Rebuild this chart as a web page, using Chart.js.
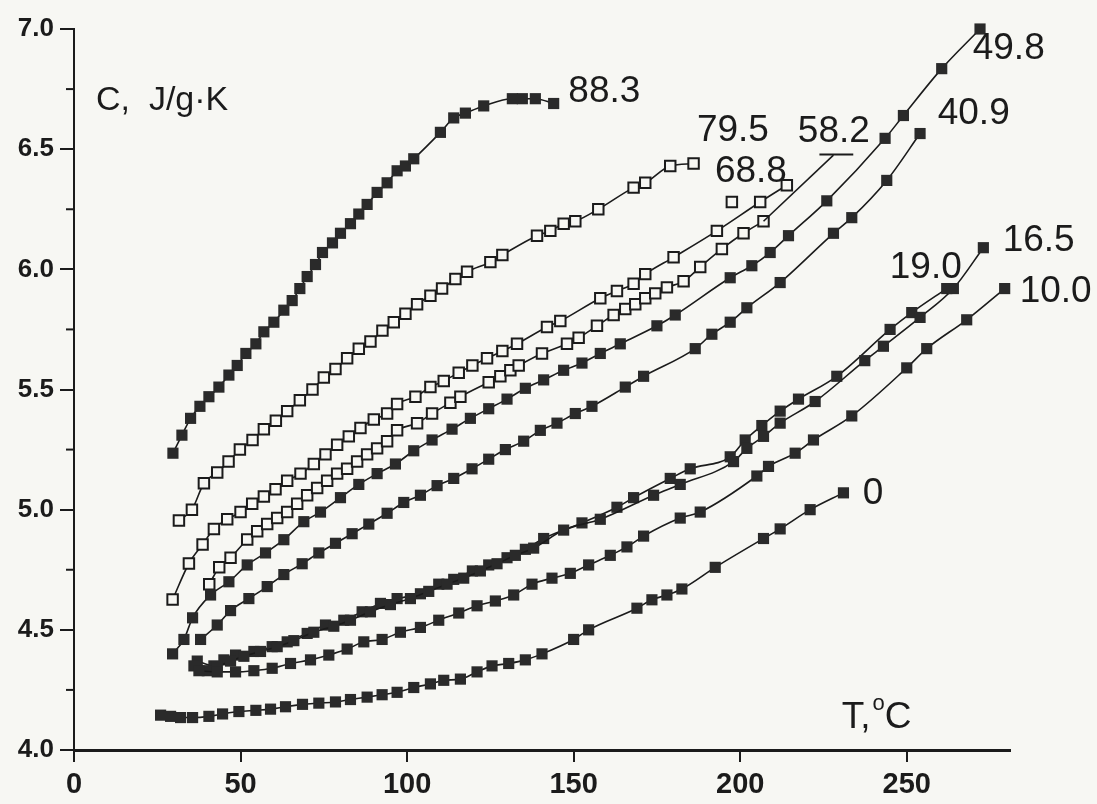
<!DOCTYPE html>
<html lang="en">
<head>
    <meta charset="UTF-8">
    <title>Heat capacity C vs T</title>
    <script src="https://cdn.jsdelivr.net/npm/chart.js@4/dist/chart.umd.min.js"></script>
    <style>
        html, body { margin: 0; padding: 0; background: #f7f7f3; }
        .chart-box { position: relative; width: 1097px; height: 804px; }
    </style>
</head>
<body>
<div class="chart-box"><canvas id="cpChart"></canvas></div>
<script>
// values: T in degC, C in J/g.K
const T883 = [29.7, 32.4, 35, 37.8, 40.5, 43.5, 46.5, 49, 51.6, 54.6, 57, 60, 63, 65.5, 67.8, 70, 72.5, 74.6, 77.6, 80, 83, 85.5, 88, 91, 94, 97, 99.5, 102, 110, 114, 117.5, 123, 131.6, 134.6, 138.5, 144];
const C883 = [5.235, 5.31, 5.38, 5.43, 5.47, 5.51, 5.56, 5.60, 5.65, 5.69, 5.74, 5.78, 5.83, 5.87, 5.92, 5.97, 6.02, 6.07, 6.11, 6.15, 6.19, 6.23, 6.27, 6.32, 6.36, 6.41, 6.43, 6.46, 6.57, 6.63, 6.65, 6.68, 6.71, 6.71, 6.71, 6.69];

const T795 = [31.5, 35.4, 39, 43, 46.4, 49.8, 53.6, 57, 60.6, 64, 67.8, 71.6, 75, 78.5, 82, 85.5, 89, 92.6, 96, 99.5, 103, 107, 110.5, 114.5, 118, 125, 128.6, 139, 143, 147, 150.5, 157.4, 168, 171.5, 179, 186];
const C795 = [4.955, 5.0, 5.11, 5.155, 5.20, 5.25, 5.29, 5.335, 5.37, 5.41, 5.455, 5.50, 5.55, 5.585, 5.63, 5.67, 5.70, 5.745, 5.78, 5.815, 5.855, 5.89, 5.92, 5.96, 5.99, 6.03, 6.06, 6.14, 6.16, 6.19, 6.20, 6.25, 6.34, 6.36, 6.43, 6.44];

const T688 = [29.6, 34.5, 38.6, 42, 46, 50, 53.5, 57, 60.5, 64, 68, 72, 75.5, 79, 82.5, 86, 90, 94, 97, 102.5, 107, 111, 115.5, 119.6, 124, 128.6, 133, 142, 146, 158, 163, 168, 171.5, 180, 193, 206, 214];
const C688 = [4.626, 4.776, 4.855, 4.92, 4.96, 4.99, 5.025, 5.055, 5.085, 5.12, 5.15, 5.19, 5.23, 5.27, 5.305, 5.34, 5.375, 5.40, 5.44, 5.47, 5.51, 5.535, 5.57, 5.60, 5.63, 5.66, 5.69, 5.76, 5.785, 5.88, 5.91, 5.94, 5.98, 6.05, 6.16, 6.28, 6.35];
// stray point off the 68.8 curve
const T688x = [197.5];
const C688x = [6.28];

const T582 = [40.6, 43.6, 47, 52, 55, 58, 61, 64, 67, 70, 73, 76, 79, 82, 85, 88, 91, 94, 97, 103, 107.5, 113, 116, 124.5, 128, 131, 133.5, 140.5, 148, 151.5, 157, 162, 165.5, 168.5, 171.5, 174.5, 178, 183, 188, 194.5, 201, 207];
const C582 = [4.69, 4.76, 4.80, 4.876, 4.91, 4.94, 4.965, 4.99, 5.025, 5.06, 5.09, 5.12, 5.15, 5.17, 5.20, 5.23, 5.255, 5.285, 5.33, 5.36, 5.40, 5.445, 5.47, 5.53, 5.555, 5.58, 5.60, 5.65, 5.69, 5.715, 5.765, 5.81, 5.835, 5.855, 5.88, 5.90, 5.925, 5.95, 6.01, 6.085, 6.15, 6.20];
// curve of 58.2 runs on up to its label
const T582tail = [207, 228];
const C582tail = [6.20, 6.475];

const T498 = [29.6, 33, 35.6, 41, 46.5, 52, 57.5, 63, 69, 74, 80, 85.5, 91, 96.5, 102, 107.5, 113.5, 119, 124.5, 130, 135.5, 141, 147, 152.5, 158, 164, 175, 180.5, 197, 203.5, 209, 214.5, 226, 243.5, 249, 260.5, 272];
const C498 = [4.40, 4.46, 4.55, 4.645, 4.70, 4.77, 4.82, 4.875, 4.95, 4.99, 5.05, 5.105, 5.15, 5.19, 5.245, 5.29, 5.335, 5.38, 5.42, 5.46, 5.505, 5.54, 5.58, 5.61, 5.65, 5.69, 5.765, 5.81, 5.965, 6.015, 6.07, 6.14, 6.285, 6.545, 6.64, 6.835, 7.0];

const T409 = [38, 43, 47, 52.5, 58, 63, 68.5, 73.5, 78.5, 83.5, 88.5, 94, 99, 104, 109, 114, 119.5, 124.5, 129.5, 135, 140, 145, 150.5, 155.5, 165.5, 171, 186.5, 191.5, 197, 202, 212, 228, 233.5, 244, 254];
const C409 = [4.46, 4.52, 4.58, 4.63, 4.68, 4.73, 4.775, 4.82, 4.86, 4.90, 4.94, 4.985, 5.03, 5.06, 5.10, 5.13, 5.17, 5.21, 5.25, 5.285, 5.33, 5.36, 5.40, 5.43, 5.51, 5.555, 5.67, 5.73, 5.78, 5.84, 5.945, 6.15, 6.215, 6.37, 6.565];

const T190 = [37, 42, 45, 48.5, 54, 59.5, 64, 70, 75.5, 81, 86.5, 92, 97, 104, 109.5, 114, 119.6, 124.5, 130, 135.5, 141, 152.5, 163, 168, 179, 185, 197, 201.5, 206.5, 212, 217.5, 229, 245, 251.5, 262];
const C190 = [4.37, 4.35, 4.375, 4.395, 4.41, 4.43, 4.45, 4.485, 4.52, 4.54, 4.575, 4.61, 4.63, 4.65, 4.69, 4.71, 4.745, 4.77, 4.80, 4.835, 4.88, 4.945, 5.01, 5.05, 5.13, 5.17, 5.22, 5.29, 5.35, 5.41, 5.46, 5.555, 5.75, 5.82, 5.92];

const T165 = [36, 40, 43, 47, 51, 56, 61, 66, 72, 78, 83, 89, 95, 101, 106.5, 112, 117, 122, 127, 132.5, 138, 147, 158, 174, 182, 198, 202, 207, 212, 222.5, 237.4, 243, 254, 264, 273];
const C165 = [4.35, 4.33, 4.345, 4.37, 4.39, 4.41, 4.43, 4.455, 4.49, 4.515, 4.54, 4.575, 4.605, 4.63, 4.66, 4.69, 4.715, 4.745, 4.775, 4.81, 4.84, 4.915, 4.96, 5.06, 5.105, 5.20, 5.255, 5.305, 5.36, 5.45, 5.62, 5.68, 5.80, 5.92, 6.09];

const T100 = [37.5, 43, 48.5, 54, 59.5, 65, 71, 76.5, 82, 87, 92.5, 98, 104, 109.5, 115.5, 121, 126.5, 132, 137.5, 143.5, 149, 154.5, 161, 166, 171, 182, 188, 205, 208.5, 216.5, 222, 233.5, 250, 256, 268, 279.4];
const C100 = [4.33, 4.325, 4.325, 4.33, 4.34, 4.36, 4.375, 4.395, 4.42, 4.45, 4.46, 4.49, 4.51, 4.54, 4.57, 4.60, 4.62, 4.645, 4.69, 4.715, 4.735, 4.77, 4.81, 4.845, 4.89, 4.965, 4.99, 5.14, 5.18, 5.235, 5.29, 5.39, 5.59, 5.67, 5.79, 5.92];

const T0 = [26, 29, 32, 35.6, 40.5, 44.6, 49.5, 54.6, 59, 63.5, 68.6, 73.5, 78.5, 83, 88, 92.5, 97, 102, 107, 111, 116, 121, 125.5, 130.5, 135.5, 140.5, 150, 154.5, 169, 173.5, 178, 182.5, 192.5, 207, 212, 221, 231];
const C0 = [4.145, 4.14, 4.135, 4.135, 4.14, 4.15, 4.16, 4.165, 4.17, 4.18, 4.19, 4.195, 4.20, 4.21, 4.22, 4.23, 4.24, 4.26, 4.275, 4.29, 4.295, 4.325, 4.35, 4.36, 4.375, 4.40, 4.46, 4.50, 4.59, 4.625, 4.645, 4.67, 4.76, 4.88, 4.92, 5.00, 5.07];

// axis ticks
const xTicks = [0, 50, 100, 150, 200, 250];
const yTicks = [4.0, 4.5, 5.0, 5.5, 6.0, 6.5, 7.0];
const yMinorTicks = [4.25, 4.75, 5.25, 5.75, 6.25, 6.75];

// curve labels placed at (T, C)
const curveLabels = [
    { text: '88.3', t: 148.4, c: 6.737 },
    { text: '79.5', t: 187.0, c: 6.578 },
    { text: '68.8', t: 192.4, c: 6.407 },
    { text: '58.2', t: 217.3, c: 6.574, underline: true },
    { text: '49.8', t: 269.8, c: 6.916 },
    { text: '40.9', t: 259.3, c: 6.649 },
    { text: '19.0', t: 244.9, c: 6.007 },
    { text: '16.5', t: 278.8, c: 6.120 },
    { text: '10.0', t: 283.9, c: 5.906 },
    { text: '0',    t: 236.8, c: 5.064 }
];

const FONT = "'Liberation Sans', Arial, sans-serif";
const INK = '#1b1b1b';
const FILL = '#2a2a2a';
const PAPER = '#f7f7f3';

const zip = (xs, ys) => xs.map((x, i) => ({ x: x, y: ys[i] }));

function series(xs, ys, open) {
    return {
        data: zip(xs, ys),
        showLine: true,
        borderColor: INK,
        borderWidth: 1.6,
        cubicInterpolationMode: 'monotone',
        pointStyle: 'rect',
        pointRadius: open ? 7.4 : 7.9,
        pointBorderWidth: open ? 2 : 0,
        pointBorderColor: INK,
        pointBackgroundColor: open ? PAPER : FILL,
        clip: false
    };
}

const datasets = [
    series(T0, C0, false),
    series(T100, C100, false),
    series(T165, C165, false),
    series(T190, C190, false),
    series(T409, C409, false),
    series(T498, C498, false),
    {
        data: zip(T582tail, C582tail), showLine: true, borderColor: INK,
        borderWidth: 1.6, pointRadius: 0, clip: false
    },
    series(T582, C582, true),
    series(T688, C688, true),
    Object.assign(series(T688x, C688x, true), { showLine: false }),
    series(T795, C795, true),
    series(T883, C883, false)
];

// labels, axis title, minor ticks
const decorations = {
    id: 'decorations',
    afterDraw(chart) {
        const ctx = chart.ctx;
        const xs = chart.scales.x, ys = chart.scales.y;
        ctx.save();
        ctx.fillStyle = INK;
        ctx.strokeStyle = INK;

        // minor ticks on the C axis
        ctx.lineWidth = 2;
        yMinorTicks.forEach(v => {
            const py = ys.getPixelForValue(v);
            ctx.beginPath();
            ctx.moveTo(xs.left - 8, py);
            ctx.lineTo(xs.left, py);
            ctx.stroke();
        });

        ctx.textBaseline = 'middle';
        ctx.textAlign = 'left';
        ctx.font = '37px ' + FONT;
        curveLabels.forEach(l => {
            const px = xs.getPixelForValue(l.t);
            const py = ys.getPixelForValue(l.c);
            ctx.fillText(l.text, px, py);
            if (l.underline) {
                const w = ctx.measureText(l.text).width;
                ctx.lineWidth = 2;
                ctx.beginPath();
                ctx.moveTo(px + w * 0.3, py + 23);
                ctx.lineTo(px + w * 0.77, py + 23);
                ctx.stroke();
            }
        });

        // C, J/g·K
        ctx.font = '34px ' + FONT;
        ctx.fillText('C,  J/g\u00b7K', xs.getPixelForValue(6.6), ys.getPixelForValue(6.70));

        // T, °C
        let px = xs.getPixelForValue(230.5);
        const py = ys.getPixelForValue(4.133);
        ctx.font = '37px ' + FONT;
        ctx.fillText('T,', px, py);
        px += ctx.measureText('T,').width + 2;
        ctx.font = '22px ' + FONT;
        ctx.fillText('o', px, py - 14);
        px += ctx.measureText('o').width;
        ctx.font = '37px ' + FONT;
        ctx.fillText('C', px, py);
        ctx.restore();
    }
};

new Chart(document.getElementById('cpChart'), {
    type: 'scatter',
    data: { datasets: datasets },
    options: {
        responsive: true,
        maintainAspectRatio: false,
        animation: false,
        events: [],
        layout: { padding: { top: 29, right: 87, left: 0, bottom: 0 } },
        plugins: { legend: { display: false }, tooltip: { enabled: false } },
        scales: {
            x: {
                type: 'linear',
                min: 0,
                max: 281,
                afterFit: s => { s.height = 54; },
                afterBuildTicks: s => { s.ticks = xTicks.map(v => ({ value: v })); },
                ticks: {
                    includeBounds: false,
                    color: INK,
                    font: { family: FONT, size: 29, weight: 'bold' },
                    padding: 6,
                    maxRotation: 0
                },
                grid: {
                    drawOnChartArea: false, drawTicks: true, tickLength: 12,
                    color: INK, lineWidth: 2
                },
                border: { display: true, color: INK, width: 3 }
            },
            y: {
                type: 'linear',
                min: 4,
                max: 7,
                afterFit: s => { s.width = 74; },
                afterBuildTicks: s => { s.ticks = yTicks.map(v => ({ value: v })); },
                ticks: {
                    includeBounds: false,
                    color: INK,
                    font: { family: FONT, size: 26, weight: 'bold' },
                    padding: 6,
                    callback: v => v.toFixed(1)
                },
                grid: {
                    drawOnChartArea: false, drawTicks: true, tickLength: 14,
                    color: INK, lineWidth: 2
                },
                border: { display: true, color: INK, width: 2 }
            }
        }
    },
    plugins: [decorations]
});
</script>
</body>
</html>
